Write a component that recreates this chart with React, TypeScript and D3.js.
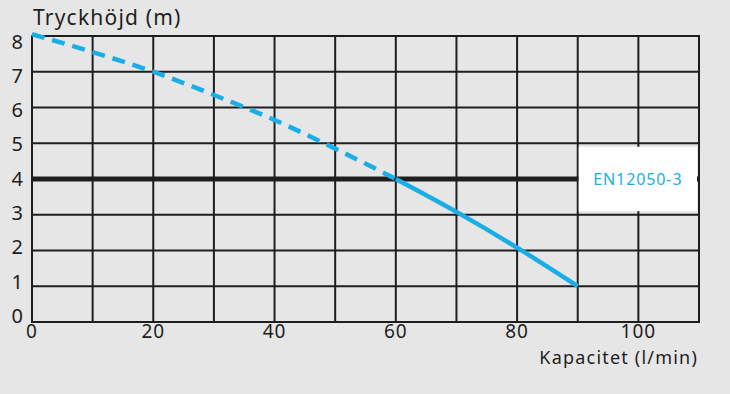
import React from "react";
import * as d3 from "d3";

const xTicks = [0, 20, 40, 60, 80, 100];
const xGrid = [0, 10, 20, 30, 40, 50, 60, 70, 80, 90, 100, 110];
const yTicks = [0, 1, 2, 3, 4, 5, 6, 7, 8];
const dashedX = [0, 10, 20, 30, 40, 50, 60];
const dashedY = [8.05, 7.55, 7.0, 6.35, 5.65, 4.85, 4.0];
const solidX = [60, 70, 80, 90];
const solidY = [4.0, 3.08, 2.08, 1.0];
const standardLevel = 4;
const legendLabel = "EN12050-3";
const yTitle = "Tryckhöjd (m)";
const xTitle = "Kapacitet (l/min)";

const W = 730, H = 394;
const BLUE = "#1aaee6";
const INK = "#1e1e1e";
const FONT = "'Noto Sans', 'Open Sans', sans-serif";

export default function App() {
  const x = d3.scaleLinear().domain([0, 110]).range([32, 699]);
  const y = d3.scaleLinear().domain([0, 8]).range([322, 36]);
  // tick labels in the reference are spaced slightly tighter than the grid
  const yLabel = d3.scaleLinear().domain([0, 8]).range([316, 41.5]);
  const line = d3.line<[number, number]>().x(d => x(d[0])).y(d => y(d[1])).curve(d3.curveMonotoneX);
  const dashed = dashedX.map((v, i) => [v, dashedY[i]] as [number, number]);
  const solid = solidX.map((v, i) => [v, solidY[i]] as [number, number]);
  const boxX0 = x(90) + 1, boxX1 = x(110) - 2;
  const boxY0 = y(4.9), boxY1 = y(3.1);
  return (
    <svg width={W} height={H} style={{ position: "absolute", left: 0, top: 0 }} fontFamily={FONT}>
      <rect width={W} height={H} fill="#e6e6e6" />
      {xGrid.map(v => (
        <line key={"gx" + v} x1={x(v)} x2={x(v)} y1={y(8)} y2={y(0)} stroke={INK} strokeWidth={2} />
      ))}
      {yTicks.map(v => (
        <line key={"gy" + v} x1={x(0) - 1} x2={x(110) + 1} y1={y(v)} y2={y(v)} stroke={INK} strokeWidth={2} />
      ))}
      <line x1={x(0)} x2={x(110)} y1={y(standardLevel)} y2={y(standardLevel)} stroke={INK} strokeWidth={5} />
      <rect x={boxX0} y={boxY0} width={boxX1 - boxX0} height={boxY1 - boxY0} fill="#ffffff" />
      <text x={(boxX0 + boxX1) / 2} y={y(standardLevel) + 6} textAnchor="middle" fontSize={16} letterSpacing={0.9} fill={BLUE}>{legendLabel}</text>
      <path d={line(dashed) || ""} fill="none" stroke={BLUE} strokeWidth={4.5} strokeDasharray="13 8" />
      <path d={line(solid) || ""} fill="none" stroke={BLUE} strokeWidth={4.5} />
      {yTicks.map(v => (
        <text key={"ty" + v} x={23} y={yLabel(v) + 7} textAnchor="end" fontSize={20} fill={INK}>{v}</text>
      ))}
      {xTicks.map(v => (
        <text key={"tx" + v} x={x(v)} y={338} textAnchor="middle" fontSize={19} letterSpacing={1} fill={INK}>{v}</text>
      ))}
      <text x={33} y={25} fontSize={21} letterSpacing={1.2} fill={INK}>{yTitle}</text>
      <text x={698} y={364} textAnchor="end" fontSize={18} letterSpacing={1.2} fill={INK}>{xTitle}</text>
    </svg>
  );
}
